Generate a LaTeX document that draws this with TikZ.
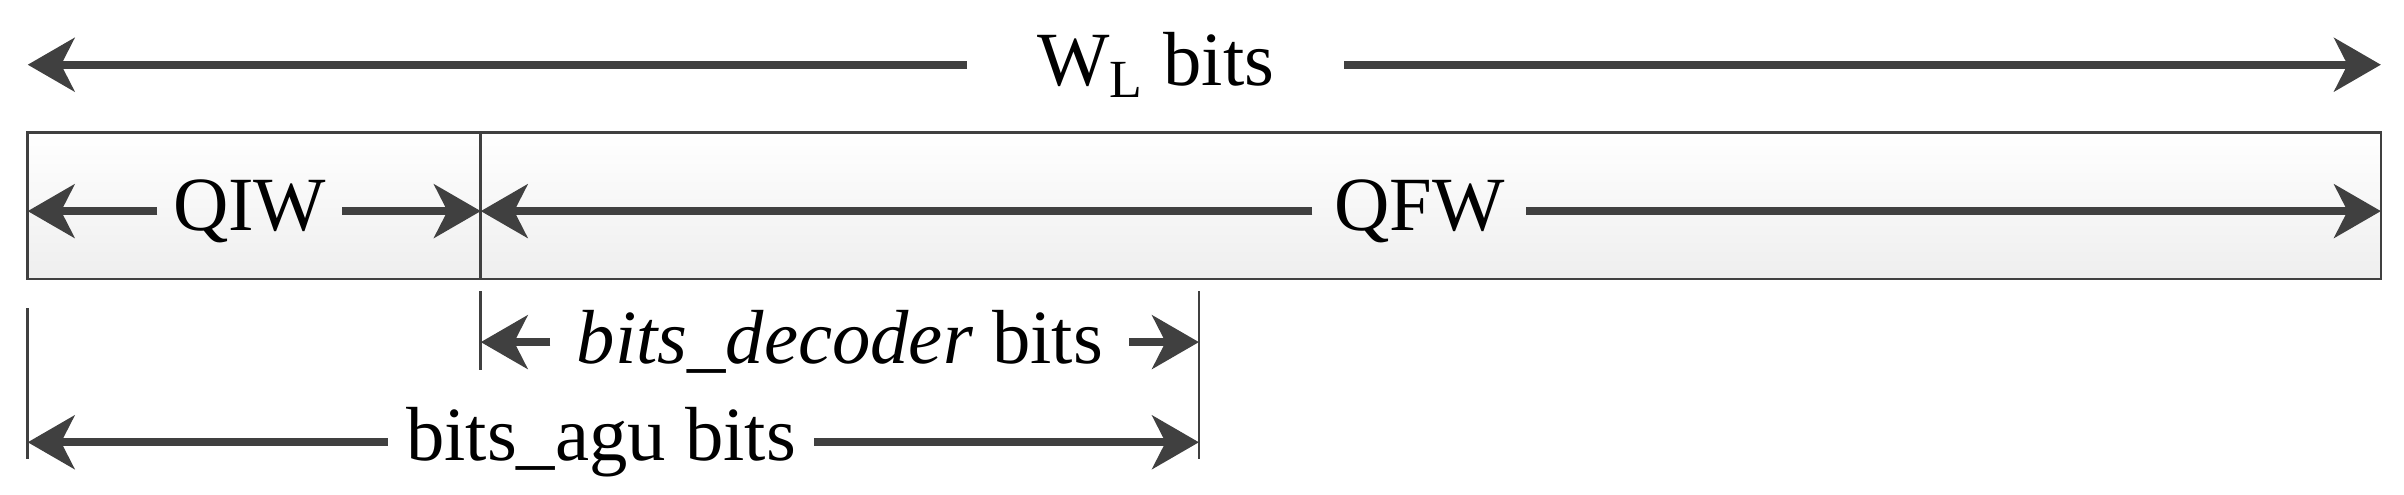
\documentclass[tikz,border=0pt]{standalone}
\usepackage{fontspec}
\setmainfont{Liberation Serif}
\usetikzlibrary{arrows.meta}
\definecolor{ln}{HTML}{404040}
\begin{document}
\begin{tikzpicture}[x=0.4623pt,y=-0.4623pt,
  dim/.style={line width=2.5pt,color=ln,-{Stealth[length=14pt,width=16pt,inset=4pt]}},
  lbl/.style={font=\fontsize{23}{27}\selectfont,inner sep=0pt},
  tick/.style={line width=0.8pt,color=ln}]
\useasboundingbox (0,0) rectangle (1560,321);
% box
\shade[top color=white,bottom color=gray!13] (18,86) rectangle (1545,181);
\draw[tick] (18,86) rectangle (1545,181);
\draw[tick] (312,86) -- (312,181);
% coordinates
\coordinate (tl) at (18,42); \coordinate (tr) at (1545,42);
\coordinate (ql) at (18,137); \coordinate (qm) at (312,137); \coordinate (qr) at (1545,137);
\coordinate (dl) at (312,222); \coordinate (dr) at (778,222);
\coordinate (al) at (18,287); \coordinate (ar) at (778,287);
\coordinate (t1a) at (312,189); \coordinate (t1b) at (312,240);
\coordinate (t2a) at (778,189); \coordinate (t2b) at (778,298);
\coordinate (t3a) at (18,200); \coordinate (t3b) at (18,298);
% labels
\node[lbl,minimum width=244*0.4623pt] (wl) at (750,42) {W\textsubscript{L} bits};
\node[lbl,minimum width=119*0.4623pt] (qiw) at (162,137) {QIW};
\node[lbl,minimum width=138*0.4623pt] (qfw) at (921,137) {QFW};
\node[lbl,minimum width=375*0.4623pt] (dec) at (545,222) {\textit{bits\_decoder} bits};
\node[lbl,minimum width=276*0.4623pt] (agu) at (390,287) {bits\_agu bits};
% arrows
\draw[dim] (wl.west) -- (tl); \draw[dim] (wl.east) -- (tr);
\draw[dim] (qiw.west) -- (ql); \draw[dim] (qiw.east) -- (qm);
\draw[dim] (qfw.west) -- (qm); \draw[dim] (qfw.east) -- (qr);
\draw[dim] (dec.west) -- (dl); \draw[dim] (dec.east) -- (dr);
\draw[dim] (agu.west) -- (al); \draw[dim] (agu.east) -- (ar);
% ticks
\draw[tick] (t1a) -- (t1b); \draw[tick] (t2a) -- (t2b); \draw[tick] (t3a) -- (t3b);
\end{tikzpicture}
\end{document}
